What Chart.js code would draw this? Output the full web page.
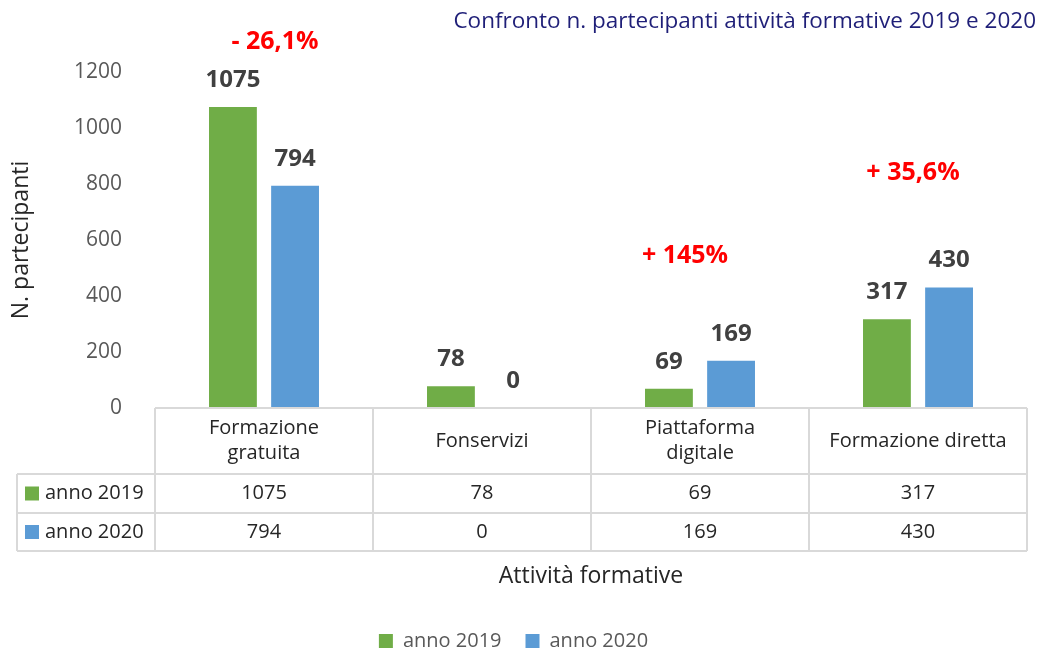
<!DOCTYPE html>
<html lang="it">
<head>
<meta charset="UTF-8">
<title>Confronto n. partecipanti attività formative 2019 e 2020</title>
<script src="https://cdn.jsdelivr.net/npm/chart.js"></script>
<style>
    body { margin: 0; background: #fff; }
    #wrap { width: 1049px; height: 650px; }
</style>
</head>
<body>
<div id="wrap"><canvas id="chartCanvas"></canvas></div>
<script>
    var categories = [['Formazione', 'gratuita'], 'Fonservizi', ['Piattaforma', 'digitale'], 'Formazione diretta'];
    var seriesNames = ['anno 2019', 'anno 2020'];
    var values2019 = [1075, 78, 69, 317];
    var values2020 = [794, 0, 169, 430];
    var yTicks = [0, 200, 400, 600, 800, 1000, 1200];
    var changeLabels = ['- 26,1%', '+ 145%', '+ 35,6%'];
    var changeCategory = [0, 2, 3];
    var changeLevel = [1307, 543, 839];

    var FONT = '"Open Sans", sans-serif';
    var GREEN = '#70ad47', BLUE = '#5b9bd5';
    var colors = [GREEN, BLUE];
    var seriesValues = [values2019, values2020];

    // text above bars, red variation notes, title and the data table under the axis
    var extrasPlugin = {
        id: 'extras',
        afterDatasetsDraw: function (chart) {
            var ctx = chart.ctx, area = chart.chartArea;
            var xs = chart.scales.x, ys = chart.scales.y;
            ctx.save();

            // value labels
            ctx.font = 'bold 24px ' + FONT;
            ctx.fillStyle = '#404040';
            ctx.textAlign = 'center';
            ctx.textBaseline = 'middle';
            chart.data.datasets.forEach(function (ds, d) {
                chart.getDatasetMeta(d).data.forEach(function (bar, i) {
                    ctx.fillText(String(ds.data[i]), bar.x, bar.y - 27);
                });
            });

            // variations
            var offs = [11, -15, -5];
            ctx.font = 'bold 25px ' + FONT;
            ctx.fillStyle = '#ff0000';
            changeLabels.forEach(function (t, k) {
                ctx.fillText(t, xs.getPixelForValue(changeCategory[k]) + offs[k], ys.getPixelForValue(changeLevel[k]));
            });

            // title
            ctx.font = '22.5px ' + FONT;
            ctx.fillStyle = '#1f1f78';
            ctx.textAlign = 'right';
            ctx.fillText('Confronto n. partecipanti attività formative 2019 e 2020', 1036, 22);

            // table
            var colW = (area.right - area.left) / categories.length;
            var top = area.bottom, hdr = top + 66, r1 = hdr + 39, r2 = r1 + 38, legL = 17;
            ctx.strokeStyle = '#d9d9d9';
            ctx.lineWidth = 2;
            ctx.beginPath();
            ctx.moveTo(area.left, top); ctx.lineTo(area.right, top);
            [hdr, r1, r2].forEach(function (yy) { ctx.moveTo(legL, yy); ctx.lineTo(area.right, yy); });
            ctx.moveTo(legL, hdr); ctx.lineTo(legL, r2);
            for (var c = 0; c <= categories.length; c++) {
                var lx = area.left + c * colW;
                ctx.moveTo(lx, top); ctx.lineTo(lx, r2);
            }
            ctx.stroke();

            ctx.font = '20px ' + FONT;
            ctx.fillStyle = '#262626';
            ctx.textAlign = 'center';
            categories.forEach(function (lab, i) {
                var cx = xs.getPixelForValue(i);
                var lines = Array.isArray(lab) ? lab : [lab];
                var y0 = (top + hdr) / 2 - (lines.length - 1) * 12.5;
                lines.forEach(function (ln, j) { ctx.fillText(ln, cx, y0 + j * 25); });
                seriesValues.forEach(function (vals, s) {
                    ctx.fillText(String(vals[i]), cx, s === 0 ? (hdr + r1) / 2 : (r1 + r2) / 2);
                });
            });
            ctx.textAlign = 'left';
            seriesNames.forEach(function (n, s) {
                var cy = s === 0 ? (hdr + r1) / 2 : (r1 + r2) / 2;
                ctx.fillStyle = colors[s];
                ctx.fillRect(25, cy - 7, 14, 14);
                ctx.fillStyle = '#262626';
                ctx.fillText(n, 45, cy);
            });
            ctx.restore();
        }
    };

    new Chart(document.getElementById('chartCanvas').getContext('2d'), {
        type: 'bar',
        data: {
            labels: categories,
            datasets: [
                { label: seriesNames[0], data: values2019, backgroundColor: GREEN, categoryPercentage: 0.57, barPercentage: 0.77 },
                { label: seriesNames[1], data: values2020, backgroundColor: BLUE, categoryPercentage: 0.57, barPercentage: 0.77 }
            ]
        },
        options: {
            responsive: true,
            maintainAspectRatio: false,
            animation: false,
            layout: { padding: { top: 72, left: 0, right: 22, bottom: -11 } },
            plugins: {
                tooltip: { enabled: false },
                legend: {
                    position: 'bottom',
                    labels: { boxWidth: 14, boxHeight: 14, padding: 24, color: '#595959', font: { family: FONT, size: 20 } }
                }
            },
            scales: {
                x: {
                    grid: { display: false },
                    border: { display: false },
                    ticks: { display: false },
                    title: { display: true, text: 'Attività formative', color: '#262626', font: { family: FONT, size: 23 }, padding: { bottom: 17 } },
                    afterFit: function (scale) {
                        var lg = scale.chart.legend ? scale.chart.legend.height : 0;
                        scale.height = scale.chart.height + 11 - 408 - lg;
                    }
                },
                y: {
                    min: 0,
                    max: 1200,
                    grid: { display: false },
                    border: { display: false },
                    afterBuildTicks: function (scale) {
                        scale.ticks = yTicks.map(function (v) { return { value: v }; });
                    },
                    ticks: {
                        color: '#595959', padding: 25, font: { family: FONT, size: 21 },
                        callback: function (v) { return String(v); }
                    },
                    title: { display: true, text: 'N. partecipanti', color: '#262626', font: { family: FONT, size: 23 }, padding: { top: 8 } },
                    afterFit: function (scale) { scale.width = 155; }
                }
            }
        },
        plugins: [extrasPlugin]
    });
</script>
</body>
</html>
